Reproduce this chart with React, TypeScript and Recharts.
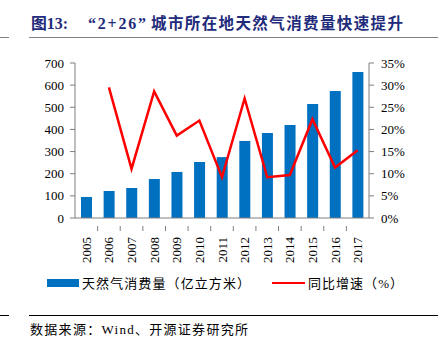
import {
  ComposedChart,
  Bar,
  Line,
  XAxis,
  YAxis
} from 'recharts';

// Years on the x axis
const years = ['2005', '2006', '2007', '2008', '2009', '2010', '2011', '2012', '2013', '2014', '2015', '2016', '2017'];
// Natural gas consumption (100 million m3)
const consumption = [95, 122, 135, 176, 208, 253, 275, 348, 384, 420, 515, 574, 659];
// Year-on-year growth (fraction)
const growth = [null, 0.295, 0.111, 0.286, 0.186, 0.22, 0.092, 0.27, 0.092, 0.097, 0.223, 0.114, 0.153];

const leftTicks = [0, 100, 200, 300, 400, 500, 600, 700];
const rightTicks = [0, 0.05, 0.1, 0.15, 0.2, 0.25, 0.3, 0.35];

const BAR_COLOR = '#0070C0';
const LINE_COLOR = '#FF0000';
const AXIS_COLOR = '#7f7f7f';
const TITLE_COLOR = '#1F2B7B';
const SERIF = '"Liberation Serif", "Times New Roman", serif';
const CJK = '"Noto Sans CJK SC", sans-serif';
const MIXED = `"Liberation Serif", ${CJK}`;

const chartData = years.map((year, i) => ({
  year,
  consumption: consumption[i],
  growth: growth[i]
}));

const BAND = 294 / years.length;

// Rotated year label plus a boundary tick mark on the right side of each band
const YearTick = (props: any) => {
  const { x, y, payload, index } = props;
  return (
    <g>
      {index < years.length - 1 && (
        <line x1={x + BAND / 2} y1={y} x2={x + BAND / 2} y2={y + 5} stroke={AXIS_COLOR} />
      )}
      <text
        x={x}
        y={y + 11}
        transform={`rotate(-90, ${x}, ${y + 11})`}
        textAnchor="end"
        dominantBaseline="central"
        fontSize={13}
        fontFamily={SERIF}
        fill="#000"
      >
        {payload.value}
      </text>
    </g>
  );
};

export default function App() {
  return (
    <div style={{ position: 'absolute', left: 0, top: 0, width: 438, height: 349, background: '#fff', overflow: 'hidden' }}>
      <div style={{ position: 'absolute', left: 0, top: 0 }}>
        <ComposedChart
          width={438}
          height={272}
          data={chartData}
          margin={{ top: 63, right: 29, left: 35, bottom: 14 }}
        >
          <XAxis
            dataKey="year"
            height={40}
            axisLine={{ stroke: AXIS_COLOR }}
            tickLine={false}
            tick={<YearTick />}
            interval={0}
          />
          <YAxis
            yAxisId="left"
            width={40}
            domain={[0, 700]}
            ticks={leftTicks}
            axisLine={{ stroke: AXIS_COLOR }}
            tickLine={{ stroke: AXIS_COLOR }}
            tickSize={5}
            tickMargin={6}
            tick={{ fontSize: 13, fontFamily: SERIF, fill: '#000' }}
            interval={0}
          />
          <YAxis
            yAxisId="right"
            orientation="right"
            width={40}
            domain={[0, 0.35]}
            ticks={rightTicks}
            axisLine={{ stroke: AXIS_COLOR }}
            tickLine={{ stroke: AXIS_COLOR }}
            tickSize={5}
            tickMargin={7}
            tick={{ fontSize: 13, fontFamily: SERIF, fill: '#000' }}
            tickFormatter={(v: number) => `${Math.round(v * 100)}%`}
            interval={0}
          />
          <Bar yAxisId="left" dataKey="consumption" fill={BAR_COLOR} barSize={11} isAnimationActive={false} />
          <Line
            yAxisId="right"
            dataKey="growth"
            stroke={LINE_COLOR}
            strokeWidth={2.5}
            dot={false}
            type="linear"
            isAnimationActive={false}
          />
        </ComposedChart>
      </div>

      {/* title, legend and source */}
      <svg width={438} height={349} style={{ position: 'absolute', left: 0, top: 0, pointerEvents: 'none' }}>
        <text x={31} y={29} fontFamily={MIXED} fontWeight="bold" fontSize={16} fill={TITLE_COLOR} textLength={37} lengthAdjust="spacingAndGlyphs">
          图13:
        </text>
        <text x={88} y={29} fontFamily={MIXED} fontWeight="bold" fontSize={16} fill={TITLE_COLOR} textLength={58} lengthAdjust="spacing">
          “2+26”
        </text>
        <text x={151} y={29} fontFamily={CJK} fontWeight="bold" fontSize={15.5} fill={TITLE_COLOR} textLength={252} lengthAdjust="spacing">
          城市所在地天然气消费量快速提升
        </text>
        <rect x={0} y={37} width={9} height={1} fill="#808080" />
        <rect x={29} y={37} width={409} height={1} fill="#808080" />

        <rect x={47} y={279} width={32} height={8} fill={BAR_COLOR} />
        <text x={82} y={288} fontFamily={CJK} fontSize={13} fill="#000" textLength={168} lengthAdjust="spacing">
          天然气消费量（亿立方米）
        </text>
        <rect x={272} y={282} width={33} height={2} fill={LINE_COLOR} />
        <text x={308} y={288} fontFamily={MIXED} fontSize={13} fill="#000" textLength={95} lengthAdjust="spacing">
          同比增速（%）
        </text>

        <rect x={0} y={315} width={9} height={1} fill="#000" />
        <rect x={29} y={315} width={409} height={1} fill="#000" />
        <text x={30} y={334} fontFamily={MIXED} fontSize={13} fill="#000" textLength={218} lengthAdjust="spacing">
          数据来源：Wind、开源证券研究所
        </text>
      </svg>
    </div>
  );
}
